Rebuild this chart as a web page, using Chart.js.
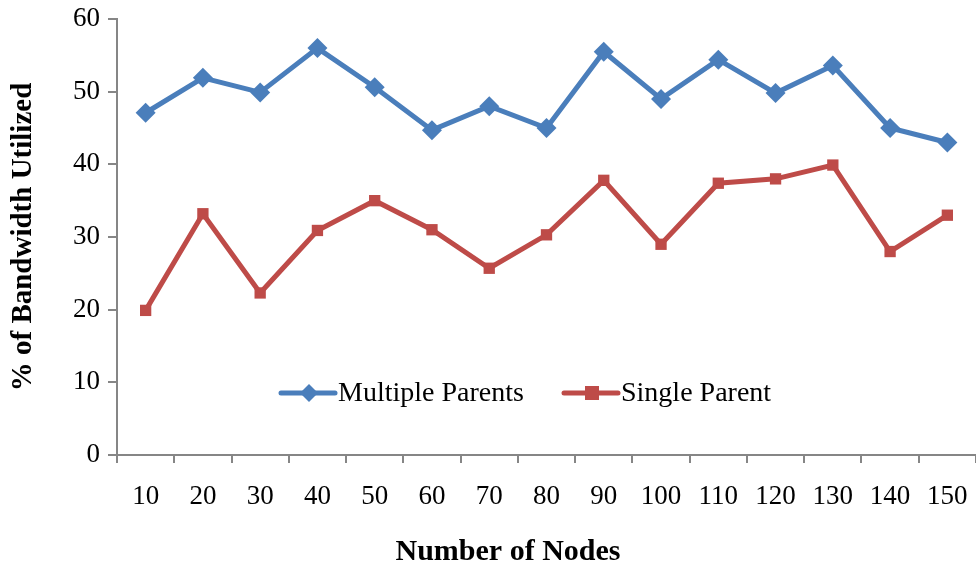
<!DOCTYPE html>
<html>
<head>
<meta charset="utf-8">
<script src="https://cdn.jsdelivr.net/npm/chart.js@4"></script>
<style>
  html, body { margin: 0; padding: 0; background: #fff; }
  #wrap { width: 976px; height: 571px; }
</style>
</head>
<body>
<div id="wrap"><canvas id="chart" width="976" height="571"></canvas></div>
<script>
// Data
const nodes = ['10', '20', '30', '40', '50', '60', '70', '80', '90', '100', '110', '120', '130', '140', '150'];
const multipleParents = [47.1, 51.9, 49.9, 56.0, 50.6, 44.7, 48.0, 45.0, 55.5, 49.0, 54.4, 49.8, 53.6, 45.0, 43.0];
const singleParent = [19.9, 33.2, 22.3, 30.9, 35.0, 31.0, 25.7, 30.3, 37.8, 29.0, 37.4, 38.0, 39.9, 28.0, 33.0];
const yTicks = [0, 10, 20, 30, 40, 50, 60];
const xTitle = 'Number of Nodes';

const BLUE = '#4A7EBB';
const RED = '#BE4B48';
const AXIS = '#868686';
const FONT = '"Liberation Serif", "DejaVu Serif", serif';

// Legend drawn inside the plot, plus the x title centred on the whole figure (as in Excel)
const insideLegend = {
    id: 'insideLegend',
    afterDatasetsDraw(chart) {
        const ctx = chart.ctx;
        const y = 393;
        const items = [
            { x: 281, ds: chart.data.datasets[0] },
            { x: 564, ds: chart.data.datasets[1] }
        ];
        ctx.save();
        ctx.font = '28px ' + FONT;
        ctx.textBaseline = 'middle';
        items.forEach(function(it) {
            ctx.strokeStyle = it.ds.borderColor;
            ctx.lineWidth = 5;
            ctx.lineCap = 'round';
            ctx.beginPath();
            ctx.moveTo(it.x, y);
            ctx.lineTo(it.x + 54, y);
            ctx.stroke();
            ctx.fillStyle = it.ds.borderColor;
            const cx = it.x + 28;
            if (it.ds.pointStyle === 'rectRot') {
                ctx.beginPath();
                ctx.moveTo(cx, y - 9);
                ctx.lineTo(cx + 9, y);
                ctx.lineTo(cx, y + 9);
                ctx.lineTo(cx - 9, y);
                ctx.closePath();
                ctx.fill();
            } else {
                ctx.fillRect(cx - 7, y - 7, 14, 14);
            }
            ctx.fillStyle = '#000';
            ctx.fillText(it.ds.label, it.x + 57, y + 1);
        });

        ctx.font = 'bold 30px ' + FONT;
        ctx.textAlign = 'center';
        ctx.fillText(xTitle, 508, 552);
        ctx.restore();
    }
};

new Chart(document.getElementById('chart'), {
    type: 'line',
    data: {
        labels: nodes,
        datasets: [{
            label: 'Multiple Parents',
            data: multipleParents,
            borderColor: BLUE,
            backgroundColor: BLUE,
            borderWidth: 5,
            pointStyle: 'rectRot',
            pointRadius: 10,
            pointBorderWidth: 0,
            tension: 0
        }, {
            label: 'Single Parent',
            data: singleParent,
            borderColor: RED,
            backgroundColor: RED,
            borderWidth: 5,
            pointStyle: 'rect',
            pointRadius: 8,
            pointBorderWidth: 0,
            tension: 0
        }]
    },
    options: {
        responsive: false,
        animation: false,
        layout: {
            autoPadding: false,
            padding: { top: 19, right: -4, bottom: 0, left: 0 }
        },
        plugins: {
            legend: { display: false },
            tooltip: { enabled: false }
        },
        scales: {
            x: {
                offset: true,
                grid: {
                    offset: true,
                    drawOnChartArea: false,
                    color: AXIS,
                    lineWidth: 2,
                    tickLength: 8
                },
                border: { color: AXIS, width: 2 },
                ticks: {
                    color: '#000',
                    font: { family: FONT, size: 27 },
                    padding: 18,
                    maxRotation: 0
                },
                afterFit(scale) {
                    scale.height = 116;
                    scale.paddingLeft = 0;
                    scale.paddingRight = 0;
                }
            },
            y: {
                min: 0,
                max: 60,
                afterBuildTicks(scale) {
                    scale.ticks = yTicks.map(function(v) { return { value: v }; });
                },
                grid: {
                    drawOnChartArea: false,
                    color: AXIS,
                    lineWidth: 2,
                    tickLength: 9
                },
                border: { color: AXIS, width: 2 },
                ticks: {
                    color: '#000',
                    font: { family: FONT, size: 27 },
                    padding: 8
                },
                title: {
                    display: true,
                    text: '% of Bandwidth Utilized',
                    color: '#000',
                    font: { family: FONT, size: 29, weight: 'bold' },
                    padding: { top: 6, bottom: 0 }
                },
                afterFit(scale) {
                    scale.width = 117;
                    scale.paddingTop = 0;
                    scale.paddingBottom = 0;
                }
            }
        }
    },
    plugins: [insideLegend]
});
</script>
</body>
</html>
